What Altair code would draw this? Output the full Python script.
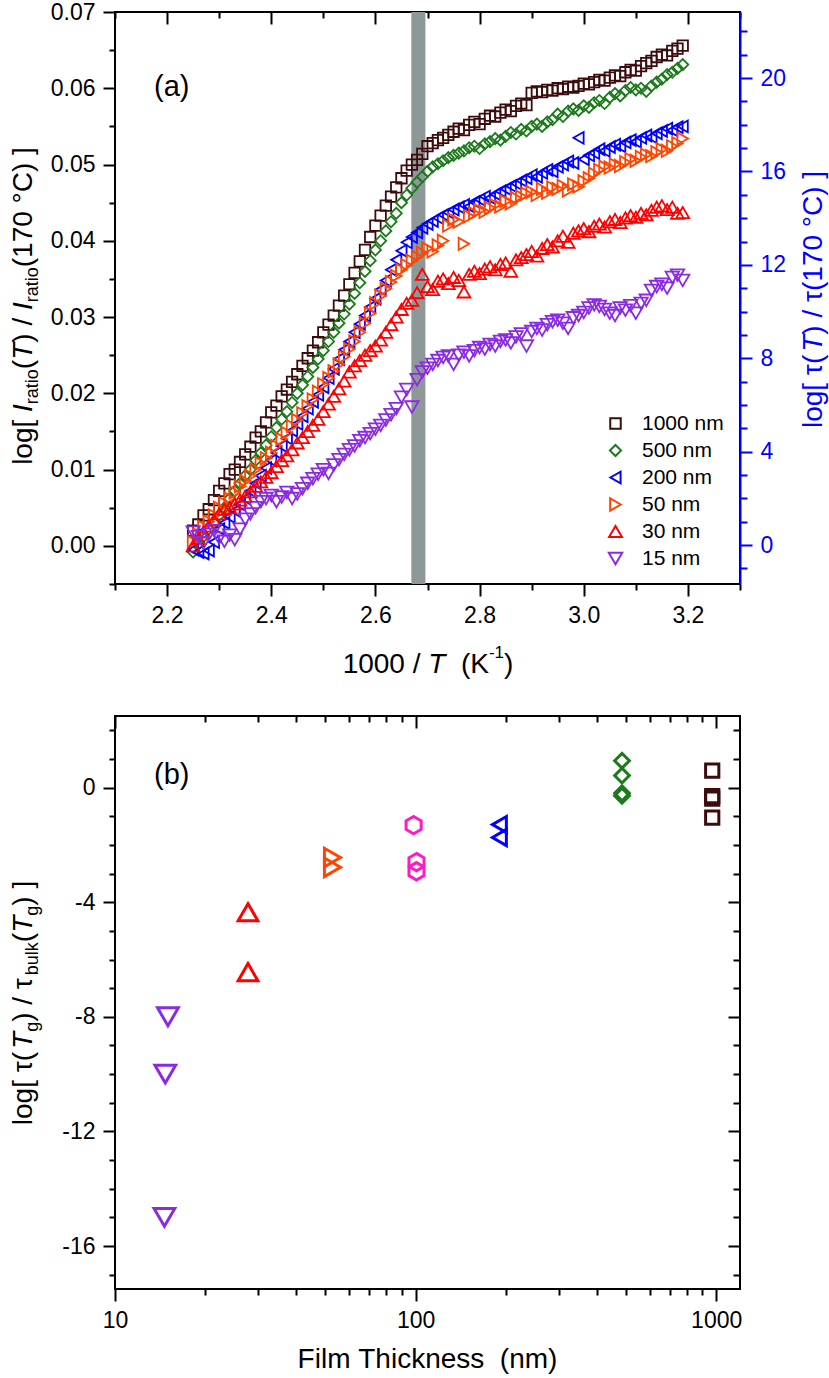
import altair as alt
import pandas as pd

FONT = "Liberation Sans"

# ---------------- panel (a) data: 1000/T and log intensity ratio ----------------
inv_T = [2.25, 2.26, 2.27, 2.28, 2.29, 2.30, 2.31, 2.32, 2.33, 2.34,
         2.35, 2.36, 2.37, 2.38, 2.39, 2.40, 2.41, 2.42, 2.43, 2.44,
         2.45, 2.46, 2.47, 2.48, 2.49, 2.50, 2.51, 2.52, 2.53, 2.54,
         2.55, 2.56, 2.57, 2.58, 2.59, 2.60, 2.61, 2.62, 2.63, 2.64,
         2.65, 2.66, 2.67, 2.68, 2.69, 2.70, 2.71, 2.72, 2.73, 2.74,
         2.75, 2.76, 2.77, 2.78, 2.79, 2.80, 2.81, 2.82, 2.83, 2.84,
         2.85, 2.86, 2.87, 2.88, 2.89, 2.90, 2.91, 2.92, 2.93, 2.94,
         2.95, 2.96, 2.97, 2.98, 2.99, 3.00, 3.01, 3.02, 3.03, 3.04,
         3.05, 3.06, 3.07, 3.08, 3.09, 3.10, 3.11, 3.12, 3.13, 3.14,
         3.15, 3.16, 3.17, 3.18, 3.19]

y_1000 = [0.0020, 0.0028, 0.0040, 0.0048, 0.0060, 0.0072, 0.0082, 0.0094, 0.0100, 0.0110,
          0.0120, 0.0130, 0.0142, 0.0150, 0.0162, 0.0175, 0.0184, 0.0196, 0.0205, 0.0215,
          0.0225, 0.0236, 0.0246, 0.0256, 0.0267, 0.0280, 0.0290, 0.0302, 0.0315, 0.0328,
          0.0343, 0.0358, 0.0373, 0.0388, 0.0405, 0.0420, 0.0433, 0.0446, 0.0458, 0.0470,
          0.0482, 0.0492, 0.0500, 0.0506, 0.0514, 0.0524, 0.0528, 0.0532, 0.0535, 0.0539,
          0.0543, 0.0547, 0.0545, 0.0552, 0.0556, 0.0553, 0.0560, 0.0564, 0.0563, 0.0568,
          0.0572, 0.0570, 0.0577, 0.0580, 0.0578, 0.0594, 0.0596, 0.0595, 0.0598, 0.0597,
          0.0600, 0.0599, 0.0602, 0.0601, 0.0603, 0.0606, 0.0605, 0.0608, 0.0611, 0.0610,
          0.0614, 0.0617, 0.0616, 0.0621, 0.0624, 0.0623, 0.0629, 0.0633, 0.0636, 0.0641,
          0.0644, 0.0643, 0.0649, 0.0652, 0.0656]

y_500 = [-0.0008, 0.0002, 0.0012, 0.0022, 0.0030, 0.0040, 0.0050, 0.0062, 0.0072, 0.0082,
         0.0092, 0.0100, 0.0112, 0.0122, 0.0132, 0.0143, 0.0155, 0.0166, 0.0176, 0.0188,
         0.0200, 0.0211, 0.0222, 0.0234, 0.0245, 0.0256, 0.0268, 0.0280, 0.0292, 0.0304,
         0.0317, 0.0331, 0.0345, 0.0360, 0.0374, 0.0388, 0.0400, 0.0413, 0.0425, 0.0436,
         0.0450, 0.0460, 0.0469, 0.0477, 0.0484, 0.0491, 0.0497, 0.0501, 0.0505, 0.0509,
         0.0512, 0.0515, 0.0518, 0.0522, 0.0524, 0.0521, 0.0527, 0.0530, 0.0534, 0.0532,
         0.0537, 0.0542, 0.0540, 0.0546, 0.0544, 0.0550, 0.0553, 0.0550, 0.0556, 0.0559,
         0.0566, 0.0563, 0.0570, 0.0573, 0.0571, 0.0577, 0.0575, 0.0581, 0.0584, 0.0580,
         0.0588, 0.0593, 0.0590, 0.0597, 0.0601, 0.0598, 0.0600, 0.0596, 0.0603, 0.0608,
         0.0612, 0.0618, 0.0621, 0.0626, 0.0631]

y_200 = [-0.0005, -0.0008, -0.0010, -0.0006, 0.0005, 0.0022, 0.0030, 0.0038, 0.0046, 0.0054,
         0.0062, 0.0072, 0.0082, 0.0092, 0.0102, 0.0112, 0.0122, 0.0131, 0.0141, 0.0151,
         0.0160, 0.0170, 0.0180, 0.0189, 0.0198, 0.0208, 0.0220, 0.0232, 0.0245, 0.0257,
         0.0268, 0.0280, 0.0291, 0.0302, 0.0313, 0.0324, 0.0336, 0.0348, 0.0362, 0.0375,
         0.0387, 0.0398, 0.0405, 0.0411, 0.0417, 0.0422, 0.0426, 0.0430, 0.0434, 0.0437,
         0.0441, 0.0444, 0.0447, 0.0445, 0.0451, 0.0454, 0.0458, 0.0456, 0.0461, 0.0465,
         0.0468, 0.0472, 0.0475, 0.0479, 0.0482, 0.0486, 0.0484, 0.0489, 0.0493, 0.0491,
         0.0497, 0.0500, 0.0504, 0.0502, 0.0535, 0.0507, 0.0512, 0.0515, 0.0520, 0.0518,
         0.0523, 0.0526, 0.0524, 0.0529, 0.0532, 0.0530, 0.0535, 0.0538, 0.0536, 0.0541,
         0.0544, 0.0547, 0.0545, 0.0549, 0.0550]

y_50 = [0.0005, 0.0015, 0.0025, 0.0032, 0.0040, 0.0050, 0.0056, 0.0062, 0.0070, 0.0078,
        0.0085, 0.0092, 0.0100, 0.0108, 0.0115, 0.0122, 0.0131, 0.0140, 0.0148, 0.0157,
        0.0165, 0.0174, 0.0183, 0.0192, 0.0202, 0.0212, 0.0220, 0.0229, 0.0238, 0.0248,
        0.0258, 0.0268, 0.0280, 0.0292, 0.0305, 0.0318, 0.0328, 0.0337, 0.0346, 0.0354,
        0.0362, 0.0368, 0.0374, 0.0379, 0.0384, 0.0390, 0.0386, 0.0394, 0.0400, 0.0420,
        0.0428, 0.0425, 0.0396, 0.0432, 0.0436, 0.0440, 0.0438, 0.0443, 0.0447, 0.0445,
        0.0452, 0.0449, 0.0456, 0.0458, 0.0462, 0.0464, 0.0460, 0.0468, 0.0463, 0.0470,
        0.0468, 0.0472, 0.0466, 0.0474, 0.0471, 0.0478, 0.0482, 0.0488, 0.0493, 0.0497,
        0.0496, 0.0500, 0.0498, 0.0503, 0.0507, 0.0505, 0.0510, 0.0513, 0.0511, 0.0516,
        0.0520, 0.0518, 0.0524, 0.0528, 0.0534]

y_30 = [0.0000, 0.0010, 0.0018, 0.0026, 0.0034, 0.0042, 0.0048, 0.0050, 0.0055, 0.0060,
        0.0065, 0.0071, 0.0078, 0.0084, 0.0090, 0.0096, 0.0104, 0.0112, 0.0118, 0.0126,
        0.0135, 0.0142, 0.0150, 0.0158, 0.0166, 0.0176, 0.0186, 0.0196, 0.0206, 0.0216,
        0.0228, 0.0236, 0.0243, 0.0250, 0.0256, 0.0262, 0.0270, 0.0280, 0.0290, 0.0300,
        0.0310, 0.0318, 0.0322, 0.0332, 0.0356, 0.0340, 0.0336, 0.0347, 0.0350, 0.0344,
        0.0352, 0.0348, 0.0333, 0.0356, 0.0360, 0.0357, 0.0363, 0.0366, 0.0362, 0.0369,
        0.0371, 0.0360, 0.0375, 0.0378, 0.0382, 0.0386, 0.0380, 0.0390, 0.0395, 0.0392,
        0.0400, 0.0406, 0.0398, 0.0410, 0.0413, 0.0416, 0.0412, 0.0419, 0.0422, 0.0418,
        0.0425, 0.0428, 0.0424, 0.0430, 0.0433, 0.0431, 0.0436, 0.0434, 0.0440, 0.0444,
        0.0446, 0.0441, 0.0444, 0.0436, 0.0437]

y_15 = [0.0018, 0.0012, 0.0004, 0.0015, 0.0020, 0.0010, 0.0006, 0.0014, 0.0008, 0.0022,
        0.0035, 0.0042, 0.0050, 0.0058, 0.0062, 0.0066, 0.0058, 0.0064, 0.0070, 0.0062,
        0.0068, 0.0075, 0.0082, 0.0088, 0.0094, 0.0100, 0.0095, 0.0106, 0.0113, 0.0120,
        0.0126, 0.0131, 0.0138, 0.0142, 0.0147, 0.0153, 0.0158, 0.0165, 0.0172, 0.0180,
        0.0195, 0.0205, 0.0182, 0.0218, 0.0228, 0.0233, 0.0238, 0.0243, 0.0247, 0.0249,
        0.0238, 0.0250, 0.0254, 0.0249, 0.0256, 0.0260, 0.0258, 0.0264, 0.0262, 0.0268,
        0.0270, 0.0266, 0.0274, 0.0278, 0.0262, 0.0281, 0.0285, 0.0283, 0.0290, 0.0294,
        0.0296, 0.0292, 0.0285, 0.0299, 0.0302, 0.0306, 0.0312, 0.0316, 0.0314, 0.0310,
        0.0305, 0.0302, 0.0312, 0.0309, 0.0315, 0.0305, 0.0318, 0.0322, 0.0335, 0.0340,
        0.0343, 0.0338, 0.0352, 0.0355, 0.0348]

names_a = ["1000 nm", "500 nm", "200 nm", "50 nm", "30 nm", "15 nm"]
band_a = [2.669, 2.696]   # grey vertical band (1000/T)

# ---------------- panel (b) data: film thickness vs log tau ratio ----------------
thick_1000 = [970, 970, 970, 970]
tau_1000 = [0.59, -0.30, -0.38, -1.05]
thick_500 = [486, 486, 486, 486]
tau_500 = [0.94, 0.42, -0.20, -0.28]
thick_200 = [190, 190]
tau_200 = [-1.29, -1.74]
thick_100 = [98.5, 100.7, 100.7]
tau_100 = [-1.31, -2.60, -2.92]
thick_50 = [52.9, 52.9]
tau_50 = [-2.44, -2.78]
thick_30 = [27.7, 27.7]
tau_30 = [-4.35, -6.44]
thick_15 = [15.0, 14.7, 14.6]
tau_15 = [-8.0, -10.0, -15.0]

names_b = ["1000 nm", "500 nm", "200 nm", "100 nm", "50 nm", "30 nm", "15 nm"]

# ---------------- styles ----------------
HEX = "M0,-1L0.866,-0.5L0.866,0.5L0,1L-0.866,0.5L-0.866,-0.5Z"
colors = {"1000 nm": "#3C0C0C", "500 nm": "#1C7A1C", "200 nm": "#0000FF", "100 nm": "#FF1AC8",
          "50 nm": "#FF4500", "30 nm": "#FF0000", "15 nm": "#8A2BE2"}
shapes = {"1000 nm": "square", "500 nm": "diamond", "200 nm": "triangle-left", "100 nm": HEX,
          "50 nm": "triangle-right", "30 nm": "triangle-up", "15 nm": "triangle-down"}
size_a = {"1000 nm": 110, "500 nm": 180, "200 nm": 190, "50 nm": 190, "30 nm": 190, "15 nm": 190}
size_b = {"1000 nm": 175, "500 nm": 430, "200 nm": 450, "100 nm": 330, "50 nm": 380,
          "30 nm": 440, "15 nm": 400}

W = 625
HA = 572
HB = 573
BLUE = "#0000FF"

# Arial / Liberation Sans advance widths (per 1000 em) for title layout
ADV = {' ': 278, '(': 333, ')': 333, '[': 278, ']': 278, '/': 278, '-': 333, '°': 400,
       'τ': 500, 'C': 722, 'F': 611, 'I': 278, 'K': 667, 'T': 611,
       'a': 556, 'b': 556, 'c': 500, 'e': 556, 'g': 556, 'h': 556, 'i': 222, 'k': 500,
       'l': 222, 'm': 833, 'n': 556, 'o': 556, 'r': 333, 's': 500, 't': 278, 'u': 556}


def tw(s, size):
    return sum(ADV.get(c, 556) for c in s) * size / 1000.0


def seg_chart(text, size, style, color, angle, x, y, align="left"):
    return alt.Chart(pd.DataFrame({"t": [text.replace(" ", "\u00a0")]})).mark_text(
        angle=angle, align=align, baseline="alphabetic", font=FONT, fontSize=size,
        fontStyle=style, color=color
    ).encode(x=alt.value(x), y=alt.value(y), text="t:N")


def lead(t):
    return t[:len(t) - len(t.lstrip(" "))]


def vtitle(segs, x0, yc, color="black"):
    total = sum(tw(t, s) for t, s, _, _ in segs)
    pos = yc + total / 2.0
    out = []
    for t, s, st, shift in segs:
        out.append(seg_chart(t.strip(), s, st, color, 270, x0 + shift, pos - tw(lead(t), s)))
        pos -= tw(t, s)
    return out


def htitle(segs, xc, y0, color="black"):
    total = sum(tw(t, s) for t, s, _, _ in segs)
    pos = xc - total / 2.0
    out = []
    for t, s, st, shift in segs:
        out.append(seg_chart(t.strip(), s, st, color, 0, pos + tw(lead(t), s), y0 + shift))
        pos += tw(t, s)
    return out


def axis(orient, values, size, labels=False, color="black", offset=None, domain=False,
         fmt=None, expr=None, pad=8):
    d = dict(orient=orient, values=values, tickSize=size, tickWidth=2, tickColor=color,
             ticks=True, domain=domain, grid=False, title=None, labels=labels)
    if offset is not None:
        d["offset"] = offset
    if domain:
        d.update(domainColor=color, domainWidth=2)
    if labels:
        d.update(labelFont=FONT, labelFontSize=23, labelColor=color, labelPadding=pad,
                 labelFlush=False, labelOverlap=False)
        if fmt:
            d["format"] = fmt
        if expr:
            d["labelExpr"] = expr
    return alt.Axis(**d)


def dummy(xscale, yscale, xaxis, yaxis, xv, yv):
    return alt.Chart(pd.DataFrame({"x": [xv], "y": [yv]})).mark_point(opacity=0).encode(
        x=alt.X("x:Q", scale=xscale, axis=xaxis),
        y=alt.Y("y:Q", scale=yscale, axis=yaxis))


def sc(dom, **kw):
    return alt.Scale(domain=dom, nice=False, zero=False, **kw)


# ================= panel (a) =================
rows = []
for name, ys in zip(names_a, [y_1000, y_500, y_200, y_50, y_30, y_15]):
    for xv, yv in zip(inv_T, ys):
        rows.append({"x": xv, "y": yv, "series": name})
df_a = pd.DataFrame(rows)

xa = [2.1, 3.3]
ya = [-0.005, 0.07]
yr = [-1.67, 22.83]

band = alt.Chart(pd.DataFrame({"x1": [band_a[0]], "x2": [band_a[1]]})).mark_rect(
    color="#8E9898").encode(
    x=alt.X("x1:Q", scale=sc(xa), axis=None), x2="x2:Q",
    y=alt.value(0), y2=alt.value(HA))

leg = alt.Legend(orient="none", legendX=490, legendY=401, title=None, symbolSize=130,
                 symbolStrokeWidth=2, labelFont=FONT, labelFontSize=21, labelColor="black",
                 rowPadding=5, padding=0, labelOffset=16)

pts_a = alt.Chart(df_a).mark_point(filled=False, strokeWidth=1.8, opacity=1).encode(
    x=alt.X("x:Q", scale=sc(xa),
            axis=axis("bottom", [2.2, 2.4, 2.6, 2.8, 3.0, 3.2], 12, labels=True, fmt=".1f")),
    y=alt.Y("y:Q", scale=sc(ya),
            axis=axis("left", [0, 0.01, 0.02, 0.03, 0.04, 0.05, 0.06, 0.07], 12, labels=True,
                      fmt=".2f")),
    color=alt.Color("series:N", scale=alt.Scale(domain=names_a, range=[colors[n] for n in names_a]),
                    legend=leg),
    shape=alt.Shape("series:N", scale=alt.Scale(domain=names_a, range=[shapes[n] for n in names_a]),
                    legend=leg),
    size=alt.Size("series:N", scale=alt.Scale(domain=names_a, range=[size_a[n] for n in names_a]),
                  legend=None),
)

xa_minor = [2.1, 2.3, 2.5, 2.7, 2.9, 3.1, 3.3]
ya_minor = [-0.005, 0.005, 0.015, 0.025, 0.035, 0.045, 0.055, 0.065]
yr_major = [0, 4, 8, 12, 16, 20]
yr_minor = [-1, 1, 2, 3, 5, 6, 7, 9, 10, 11, 13, 14, 15, 17, 18, 19, 21, 22]

ax_a1 = dummy(sc(xa), sc(ya), axis("bottom", xa_minor, 6), axis("left", ya_minor, 6), 2.5, 0.03)
ax_a2 = dummy(sc(xa), sc(yr), axis("top", [2.2, 2.4, 2.6, 2.8, 3.0, 3.2], 12, offset=-12),
              axis("right", yr_major, 12, labels=True, color=BLUE, domain=True, fmt="d"), 2.5, 10)
ax_a3 = dummy(sc(xa), sc(yr), axis("top", xa_minor, 6, offset=-6),
              axis("right", yr_minor, 7, color=BLUE), 2.5, 10)

texts_a = []
texts_a += vtitle([("log[ ", 28, "normal", 0), ("I", 28, "italic", 0), ("ratio", 18, "normal", 6),
                   ("(", 28, "normal", 0), ("T", 28, "italic", 0), (") / ", 28, "normal", 0),
                   ("I", 28, "italic", 0), ("ratio", 18, "normal", 6),
                   ("(170 °C) ]", 28, "normal", 0)], -83, 294)
texts_a += vtitle([("log[ τ(", 28, "normal", 0), ("T", 28, "italic", 0),
                   (") / τ(170 °C) ]", 28, "normal", 0)], 707, 286, BLUE)
texts_a += htitle([("1000 / ", 28, "normal", 0), ("T", 28, "italic", 0), ("  (K", 28, "normal", 0),
                   ("-1", 17, "normal", -15), (")", 28, "normal", 0)], 313, 661)
texts_a.append(seg_chart("(a)", 29, "normal", "black", 0, 39, 84))

chart_a = alt.layer(band, pts_a, ax_a1, ax_a2, ax_a3, *texts_a).resolve_scale(
    x="independent", y="independent").resolve_axis(x="independent", y="independent").properties(
    width=W, height=HA)

# ================= panel (b) =================
rows = []
for name, xs, ys in zip(names_b,
                        [thick_1000, thick_500, thick_200, thick_100, thick_50, thick_30, thick_15],
                        [tau_1000, tau_500, tau_200, tau_100, tau_50, tau_30, tau_15]):
    for xv, yv in zip(xs, ys):
        rows.append({"x": xv, "y": yv, "grp": name})
df_b = pd.DataFrame(rows)

xb = [10, 1200]
yb = [-17.5, 2.5]


def scl(dom):
    return alt.Scale(type="log", domain=dom, nice=False)


xb_major = [10, 100, 1000]
xb_minor = [20, 30, 40, 50, 60, 70, 80, 90, 200, 300, 400, 500, 600, 700, 800, 900]
yb_major = [-16, -12, -8, -4, 0]
yb_minor = [-17, -15, -14, -13, -11, -10, -9, -7, -6, -5, -3, -2, -1, 1, 2]

pts_b = alt.Chart(df_b).mark_point(filled=False, strokeWidth=3, opacity=1).encode(
    x=alt.X("x:Q", scale=scl(xb),
            axis=axis("bottom", xb_major, 12, labels=True, expr="datum.value + ''")),
    y=alt.Y("y:Q", scale=sc(yb),
            axis=axis("left", yb_major, 12, labels=True, expr="datum.value + ''")),
    color=alt.Color("grp:N", scale=alt.Scale(domain=names_b, range=[colors[n] for n in names_b]),
                    legend=None),
    shape=alt.Shape("grp:N", scale=alt.Scale(domain=names_b, range=[shapes[n] for n in names_b]),
                    legend=None),
    size=alt.Size("grp:N", scale=alt.Scale(domain=names_b, range=[size_b[n] for n in names_b]),
                  legend=None),
)

ax_b1 = dummy(scl(xb), sc(yb), axis("bottom", xb_minor, 6), axis("left", yb_minor, 6), 100, -8)
ax_b2 = dummy(scl(xb), sc(yb), axis("top", xb_major, 12, offset=-12),
              axis("right", yb_major, 12, offset=-12), 100, -8)
ax_b3 = dummy(scl(xb), sc(yb), axis("top", xb_minor, 6, offset=-6),
              axis("right", yb_minor, 7, offset=-7), 100, -8)

texts_b = []
texts_b += vtitle([("log[ τ(", 28, "normal", 0), ("T", 28, "italic", 0), ("g", 18, "normal", 6),
                   (") / τ", 28, "normal", 0), ("bulk", 18, "normal", 6), ("(", 28, "normal", 0),
                   ("T", 28, "italic", 0), ("g", 18, "normal", 6), (") ]", 28, "normal", 0)],
                  -83, 287)
texts_b.append(seg_chart("Film Thickness  (nm)", 28, "normal", "black", 0, W / 2, 652, "center"))
texts_b.append(seg_chart("(b)", 29, "normal", "black", 0, 39, 68))

chart_b = alt.layer(pts_b, ax_b1, ax_b2, ax_b3, *texts_b).resolve_scale(
    x="independent", y="independent").resolve_axis(x="independent", y="independent").properties(
    width=W, height=HB)

chart = alt.vconcat(chart_a, chart_b, spacing=34).resolve_scale(
    color="independent", shape="independent", size="independent").properties(
    padding={"left": 8, "top": 0, "right": 0, "bottom": 0}, background="white"
).configure_view(stroke="black", strokeWidth=2)

chart.save("out.html", embed_options={"renderer": "svg", "actions": False})
